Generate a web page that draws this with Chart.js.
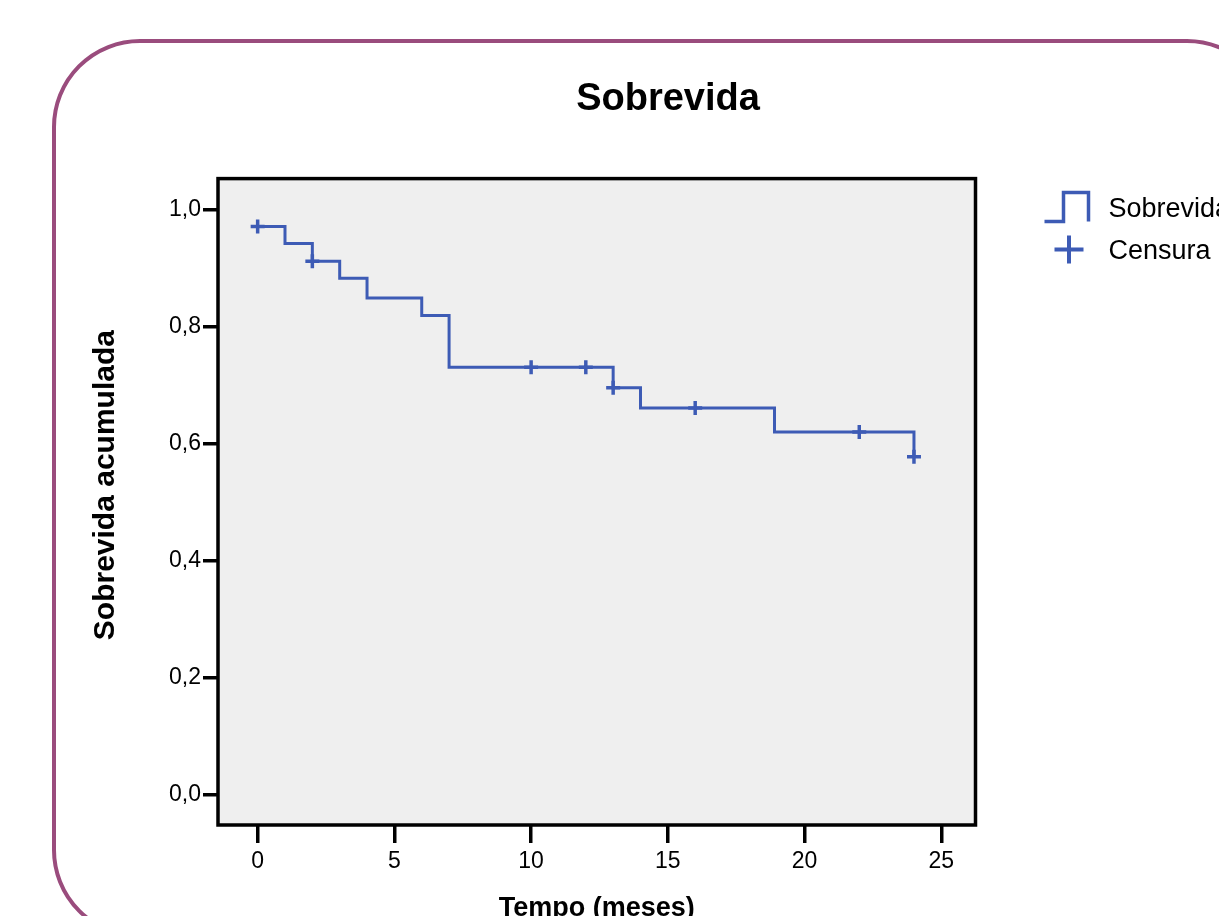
<!DOCTYPE html>
<html>
<head>
<meta charset="utf-8">
<title>Sobrevida</title>
<script src="https://cdn.jsdelivr.net/npm/chart.js@4.4.1/dist/chart.umd.min.js"></script>
<style>
  html, body { margin: 0; padding: 0; background: #fff; overflow: hidden; }
  #wrap { position: relative; width: 1219px; height: 916px; overflow: hidden; }
  #frame {
    position: absolute; left: 52px; top: 39px; width: 1223px; height: 899px;
    box-sizing: border-box; border: 4.5px solid #9a4c7d; border-radius: 88px;
  }
  #survivalChart { position: absolute; left: 0; top: 0; }
</style>
</head>
<body>
<div id="wrap">
  <div id="frame"></div>
  <canvas id="survivalChart" width="1336" height="940"></canvas>
</div>
<script>
// Kaplan-Meier steps (time in months, cumulative survival)
const stepTimes = [0, 1, 2, 3, 4, 6, 7, 13, 14, 18.9, 24];
const stepSurvival = [0.971, 0.942, 0.912, 0.883, 0.849, 0.819, 0.731, 0.696, 0.661, 0.620, 0.578];
// censored observations
const censorTimes = [0, 2, 10, 12, 13, 16, 22, 24];
const censorSurvival = [0.971, 0.912, 0.731, 0.731, 0.696, 0.661, 0.620, 0.578];
// axis ticks
const xTicks = [0, 5, 10, 15, 20, 25];
const yTicks = [0, 0.2, 0.4, 0.6, 0.8, 1.0];

const lineColor = "#3d5bb5";
const fontFamily = '"Liberation Sans", Arial, Helvetica, sans-serif';
Chart.defaults.font.family = fontFamily;
Chart.defaults.color = "#000";

function toPoints(xs, ys) {
  return xs.map((x, i) => ({ x: x, y: ys[i] }));
}

// grey plot area with black frame
const plotFrame = {
  id: "plotFrame",
  beforeDraw(chart) {
    const { ctx, chartArea: a } = chart;
    ctx.save();
    ctx.fillStyle = "#efefef";
    ctx.fillRect(a.left, a.top, a.right - a.left, a.bottom - a.top);
    ctx.restore();
  },
  afterDatasetsDraw(chart) {
    const { ctx, chartArea: a } = chart;
    ctx.save();
    ctx.strokeStyle = "#000";
    ctx.lineWidth = 3.5;
    ctx.strokeRect(a.left, a.top, a.right - a.left, a.bottom - a.top);
    ctx.restore();
  }
};

// SPSS style legend at the right of the plot
const sideLegend = {
  id: "sideLegend",
  afterDraw(chart) {
    const { ctx, chartArea: a } = chart;
    const ds = chart.data.datasets;
    const x0 = a.right + 69;
    const y0 = a.top + 29;
    ctx.save();
    ctx.strokeStyle = lineColor;
    ctx.lineWidth = 3.5;
    ctx.beginPath();
    ctx.moveTo(x0, y0 + 14);
    ctx.lineTo(x0 + 19, y0 + 14);
    ctx.lineTo(x0 + 19, y0 - 15);
    ctx.lineTo(x0 + 44, y0 - 15);
    ctx.lineTo(x0 + 44, y0 + 14);
    ctx.stroke();
    const cy = y0 + 42;
    ctx.lineWidth = 4;
    ctx.beginPath();
    ctx.moveTo(x0 + 10, cy);
    ctx.lineTo(x0 + 39, cy);
    ctx.moveTo(x0 + 24.5, cy - 14);
    ctx.lineTo(x0 + 24.5, cy + 14);
    ctx.stroke();
    ctx.fillStyle = "#000";
    ctx.font = "27px " + fontFamily;
    ctx.textBaseline = "middle";
    ctx.fillText(ds[0].label, x0 + 64, y0 + 2);
    ctx.fillText(ds[1].label, x0 + 64, cy + 2);
    ctx.restore();
  }
};

const tickGrid = {
  display: true,
  drawOnChartArea: false,
  drawTicks: true,
  color: "#000",
  lineWidth: 3.5
};

new Chart(document.getElementById("survivalChart"), {
  type: "scatter",
  data: {
    datasets: [
      {
        label: "Sobrevida",
        data: toPoints(stepTimes, stepSurvival),
        showLine: true,
        stepped: "before",
        borderColor: lineColor,
        borderWidth: 3,
        pointRadius: 0,
        fill: false
      },
      {
        label: "Censura",
        data: toPoints(censorTimes, censorSurvival),
        showLine: false,
        pointStyle: "cross",
        pointRadius: 7,
        pointBorderWidth: 3.5,
        borderColor: lineColor,
        backgroundColor: lineColor
      }
    ]
  },
  options: {
    responsive: false,
    animation: false,
    devicePixelRatio: 1,
    layout: { padding: 0 },
    plugins: {
      legend: { display: false },
      tooltip: { enabled: false },
      title: {
        display: true,
        text: "Sobrevida",
        color: "#000",
        font: { size: 38, weight: "bold" },
        padding: { top: 77, bottom: 56 }
      }
    },
    scales: {
      x: {
        type: "linear",
        min: -1.45,
        max: 26.25,
        afterBuildTicks: (s) => { s.ticks = xTicks.map((v) => ({ value: v })); },
        afterFit: (s) => { s.height = 115; },
        grid: Object.assign({}, tickGrid, { tickLength: 18 }),
        border: { display: false },
        ticks: { autoSkip: false, maxRotation: 0, padding: 5, font: { size: 23 } },
        title: {
          display: true,
          text: "Tempo (meses)",
          font: { size: 27, weight: "bold" },
          padding: { top: 0, bottom: 15 }
        }
      },
      y: {
        min: -0.051,
        max: 1.053,
        afterBuildTicks: (s) => { s.ticks = yTicks.map((v) => ({ value: v })); },
        afterFit: (s) => { s.width = 218; },
        grid: Object.assign({}, tickGrid, { tickLength: 15 }),
        border: { display: false },
        ticks: {
          autoSkip: false,
          padding: 2,
          font: { size: 23 },
          callback: (v) => v.toFixed(1).replace(".", ",")
        },
        title: {
          display: true,
          // leading spaces nudge the centred title up, as in the original
          text: "    Sobrevida acumulada",
          font: { size: 30, weight: "bold" },
          padding: { top: 88, bottom: 0 }
        }
      },
      y2: {
        position: "right",
        afterFit: (s) => { s.width = 360.5; },
        grid: { display: false },
        ticks: { display: false },
        border: { display: false }
      }
    }
  },
  plugins: [plotFrame, sideLegend]
});
</script>
</body>
</html>
